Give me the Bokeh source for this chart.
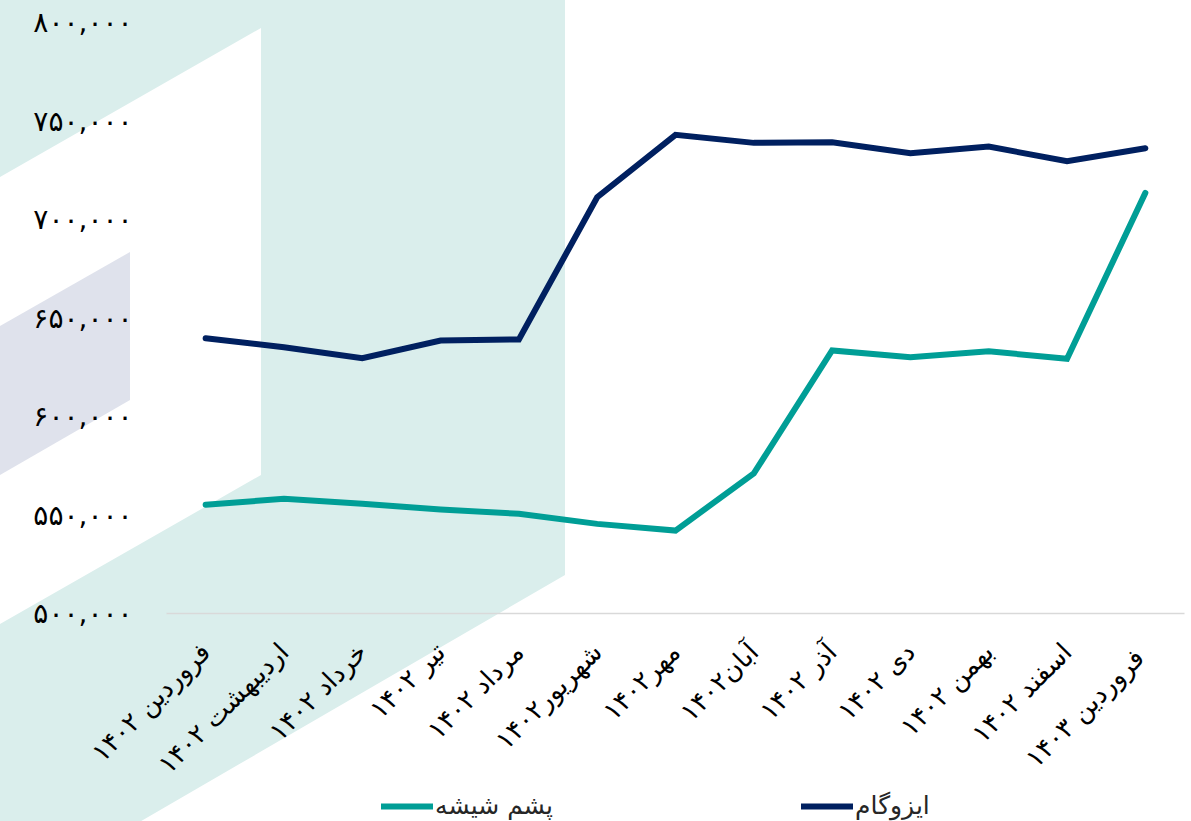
from math import pi
from urllib.parse import quote
from bokeh.plotting import figure
from bokeh.models import (Range1d, FixedTicker, Legend, LegendItem,
                          ColumnDataSource)
from bokeh.embed import file_html
from bokeh.resources import INLINE

# ---- data ----
months = ["فروردین ۱۴۰۲", "اردیبهشت ۱۴۰۲", "خرداد ۱۴۰۲", "تیر ۱۴۰۲", "مرداد ۱۴۰۲",
          "شهریور۱۴۰۲", "مهر۱۴۰۲", "آبان۱۴۰۲", "آذر ۱۴۰۲", "دی ۱۴۰۲",
          "بهمن ۱۴۰۲", "اسفند ۱۴۰۲", "فروردین  ۱۴۰۳"]
izogam = [639700, 635200, 629600, 638600, 639100, 711300, 743000,
          738900, 739200, 733600, 737000, 729600, 736200]
pashm_shishe = [555200, 558200, 555700, 552800, 550600, 545500, 542100,
                571100, 633500, 630100, 633100, 629300, 713500]
series_names = ["پشم شیشه", "ایزوگام"]
y_ticks = [500000, 550000, 600000, 650000, 700000, 750000, 800000]
y_tick_labels = ["۵۰۰,۰۰۰", "۵۵۰,۰۰۰", "۶۰۰,۰۰۰", "۶۵۰,۰۰۰",
                 "۷۰۰,۰۰۰", "۷۵۰,۰۰۰", "۸۰۰,۰۰۰"]

TEAL = "#009E96"
NAVY = "#002060"
FONT = "DejaVu Sans"
W, H = 1191, 821

# decorative background (canvas pixels), painted behind a transparent canvas
bg_svg = (f"<svg xmlns='http://www.w3.org/2000/svg' width='{W}' height='{H}'>"
          "<polygon points='0,0 565,0 565,575 0,903 0,624 261,475 261,28 0,177' "
          "fill='#DAEEEC'/>"
          "<polygon points='0,326 130,252 130,400 0,475' fill='#DFE2EC'/>"
          "</svg>")
bg_url = 'url("data:image/svg+xml,' + quote(bg_svg) + '")'

# the frame covers the whole canvas; axes are pinned inside it
xs = list(range(len(months)))
n = len(months)
PLOT_L, PLOT_R, PLOT_T, PLOT_B = 166, 1184, 22, 613   # value area in px
ux = (PLOT_R - PLOT_L) / n
x_start = -0.5 - PLOT_L / ux
x_end = n - 0.5 + (W - PLOT_R) / ux
Y0, Y1 = y_ticks[0], y_ticks[-1]
uy = (PLOT_B - PLOT_T) / (Y1 - Y0)
y_end = Y1 + PLOT_T / uy
y_start = Y0 - (H - PLOT_B) / uy

p = figure(x_range=Range1d(x_start, x_end), y_range=Range1d(y_start, y_end),
           frame_width=W, frame_height=H,
           output_backend="svg", toolbar_location=None,
           min_border=0)
p.background_fill_color = None
p.border_fill_color = None
p.outline_line_color = None
p.xgrid.grid_line_color = None
p.ygrid.grid_line_color = None
p.styles = {"background-image": bg_url, "background-repeat": "no-repeat",
            "background-color": "white"}

src = ColumnDataSource(dict(x=xs, a=izogam, b=pashm_shishe))
r_b = p.line("x", "b", source=src, line_color=TEAL, line_width=6,
             line_cap="round", line_join="miter")
r_a = p.line("x", "a", source=src, line_color=NAVY, line_width=6,
             line_cap="round", line_join="miter")

# y axis pinned at the left edge of the value area
yax = p.yaxis[0]
yax.fixed_location = -0.5
yax.bounds = (Y0, Y1)
yax.ticker = FixedTicker(ticks=y_ticks)
yax.major_label_overrides = {t: l for t, l in zip(y_ticks, y_tick_labels)}
yax.axis_line_color = None
yax.major_tick_line_color = None
yax.minor_tick_line_color = None
yax.major_tick_out = 0
yax.major_tick_in = 0
yax.minor_tick_out = 0
yax.major_label_standoff = 34
yax.major_label_text_font = FONT
yax.major_label_text_font_size = "28px"
yax.major_label_text_color = "black"

# x axis pinned at the 500,000 level
xax = p.xaxis[0]
xax.fixed_location = Y0
xax.bounds = (-0.5, n - 0.5)
xax.ticker = FixedTicker(ticks=xs)
xax.major_label_overrides = {i: m for i, m in zip(xs, months)}
xax.axis_line_color = "#D9D9D9"
xax.axis_line_width = 1.5
xax.major_tick_line_color = None
xax.minor_tick_line_color = None
xax.major_tick_out = 0
xax.major_tick_in = 0
xax.minor_tick_out = 0
xax.major_label_orientation = pi / 4
xax.major_label_standoff = 34
xax.major_label_text_font = FONT
xax.major_label_text_font_size = "26px"
xax.major_label_text_color = "black"

legend = Legend(items=[LegendItem(label=series_names[0], renderers=[r_b]),
                       LegendItem(label=series_names[1], renderers=[r_a])],
                orientation="horizontal", location=(381, 1),
                label_text_font=FONT, label_text_font_size="25px",
                label_text_color="#262626", glyph_width=52, glyph_height=20,
                label_standoff=2, spacing=248, border_line_color=None,
                background_fill_alpha=0, margin=0, padding=2)
p.add_layout(legend, "center")

open("out.html", "w").write(file_html(p, INLINE))
